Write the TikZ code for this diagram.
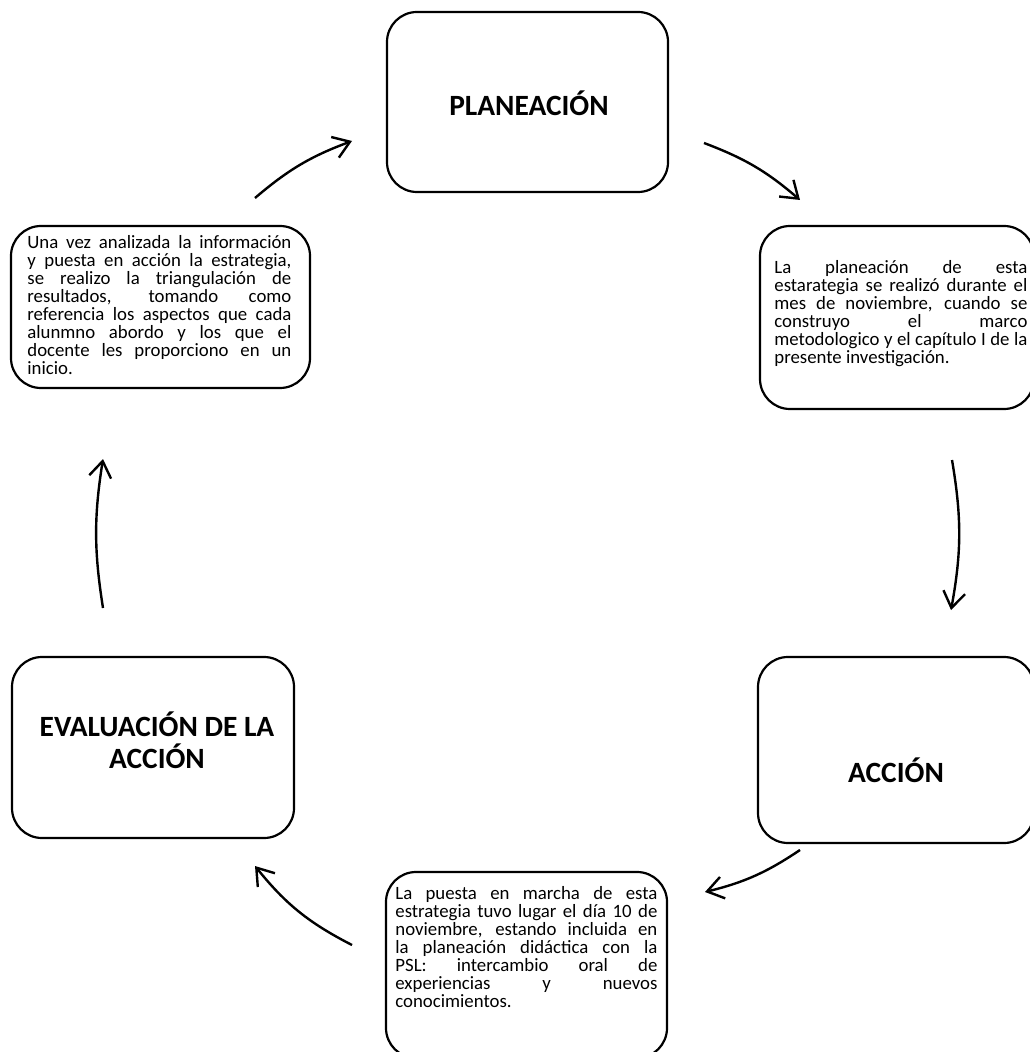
\documentclass[tikz,border=0pt]{standalone}
\usepackage{fontspec}
\setmainfont{Carlito}
\usetikzlibrary{arrows.meta}
\newcommand{\jl}[2]{\makebox[#1][s]{#2}}
\begin{document}
\begin{tikzpicture}[x=0.5pt,y=-0.5pt,
  box/.style={draw, line width=1.1pt, rounded corners=15pt, inner sep=0pt},
  title/.style={font=\fontsize{14.7}{16}\selectfont\bfseries, align=center, inner sep=0pt},
  body/.style={font=\fontsize{9.4}{9}\selectfont, align=left, inner sep=0pt, anchor=north west},
  arr/.style={line width=1.2pt, -{Straight Barb[length=8pt,width=11pt,line width=1.2pt]}}]
  \useasboundingbox (0,0) rectangle (1029,1052);
  % boxes
  \node[box, minimum width=140.5pt, minimum height=90pt] (plan) at (527.5,102) {};
  \node[box, minimum width=137pt, minimum height=91.5pt] (rbox) at (897,317.5) {};
  \node[box, minimum width=149.5pt, minimum height=81pt] (lbox) at (160.5,307) {};
  \node[box, minimum width=138pt, minimum height=93pt] (accbox) at (896,750) {};
  \node[box, minimum width=141pt, minimum height=90.5pt] (evbox) at (153,747.5) {};
  \node[box, minimum width=140.5pt, minimum height=93pt] (bbox) at (526.5,965) {};
  % titles
  \node[title] (plant) at (529,103) {PLANEACIÓN};
  \node[title] (acct) at (896,770) {ACCIÓN};
  \node[title] (evt) at (157,740) {EVALUACIÓN DE LA\\ACCIÓN};
  % body texts
  \node[body] (rtext) at (774,258) {\rule{0pt}{7.5pt}\jl{126.5pt}{La planeación de esta}\\
    \jl{126.5pt}{estarategia se realizó durante el}\\
    \jl{126.5pt}{mes de noviembre, cuando se}\\
    \jl{126.5pt}{construyo el marco}\\
    \jl{126.5pt}{metodologico y el capítulo I de la}\\
    presente investigación.};
  \node[body] (ltext) at (27,233) {\rule{0pt}{7.5pt}\jl{132pt}{Una vez analizada la información}\\
    \jl{132pt}{y puesta en acción la estrategia,}\\
    \jl{132pt}{se realizo la triangulación de}\\
    \jl{132pt}{resultados, tomando como}\\
    \jl{132pt}{referencia los aspectos que cada}\\
    \jl{132pt}{alunmno abordo y los que el}\\
    \jl{132pt}{docente les proporciono en un}\\
    inicio.};
  \node[body] (btext) at (395,884) {\rule{0pt}{7.5pt}\jl{131pt}{La puesta en marcha de esta}\\
    \jl{131pt}{estrategia tuvo lugar el día 10 de}\\
    \jl{131pt}{noviembre, estando incluida en}\\
    \jl{131pt}{la planeación didáctica con la}\\
    \jl{131pt}{PSL: intercambio oral de}\\
    \jl{131pt}{experiencias y nuevos}\\
    conocimientos.};
  % arrow ends
  \coordinate (tl1) at (255,198); \coordinate (tl2) at (352,141);
  \coordinate (tr1) at (704,143); \coordinate (tr2) at (800,200);
  \coordinate (r1) at (952,460);  \coordinate (r2) at (951,610);
  \coordinate (br1) at (800,850); \coordinate (br2) at (705,892);
  \coordinate (bl1) at (352,945); \coordinate (bl2) at (255,866);
  \coordinate (l1) at (103,608);  \coordinate (l2) at (103,459);
  \draw[arr] (tl1) to[bend left=10] (tl2);
  \draw[arr] (tr1) to[bend left=10] (tr2);
  \draw[arr] (r1) to[bend left=10] (r2);
  \draw[arr] (br1) to[bend left=10] (br2);
  \draw[arr] (bl1) to[bend left=12] (bl2);
  \draw[arr] (l1) to[bend left=9] (l2);
\end{tikzpicture}
\end{document}
